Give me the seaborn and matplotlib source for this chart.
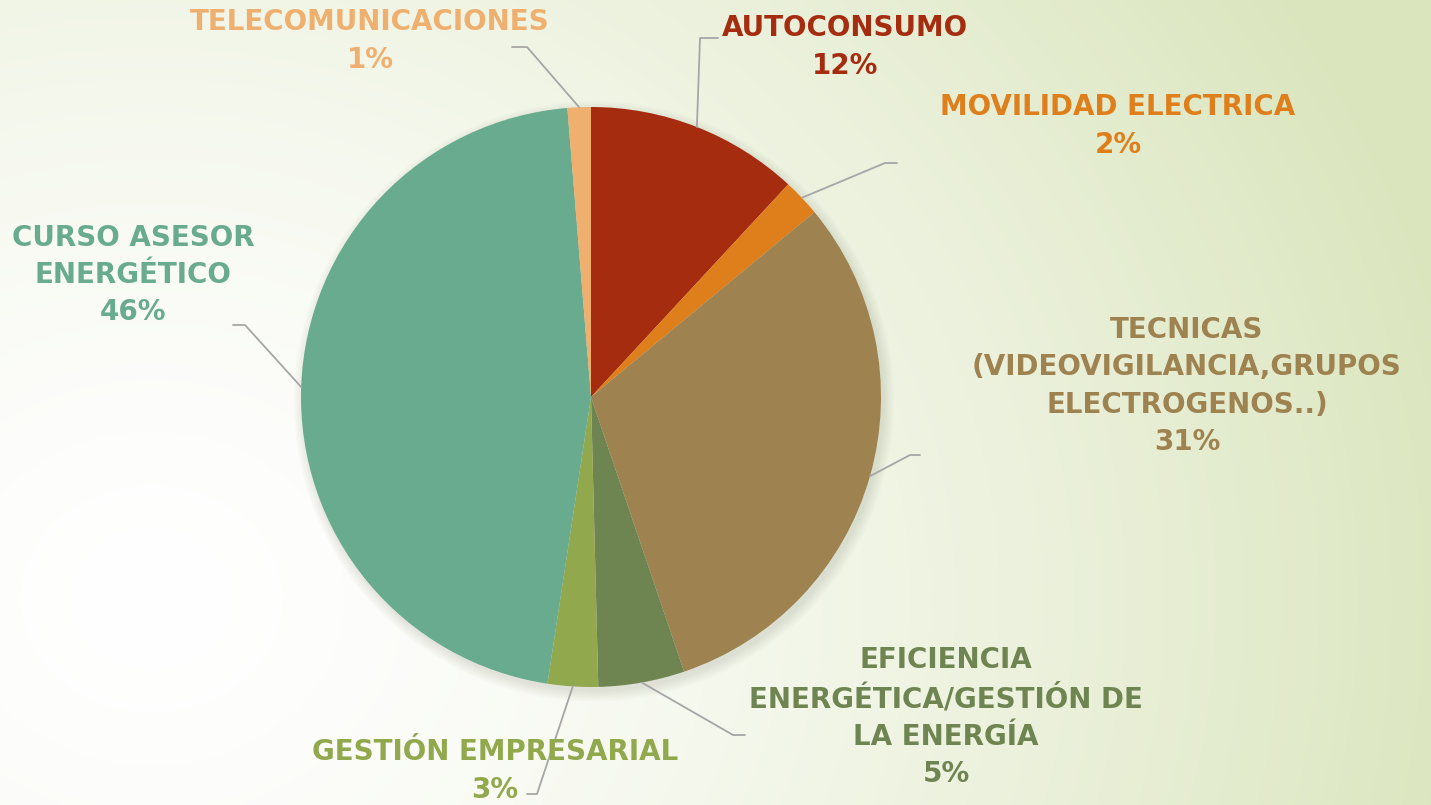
import numpy as np
import pandas as pd
import seaborn as sns
import matplotlib.pyplot as plt
from matplotlib.colors import to_rgb

categories = ['AUTOCONSUMO', 'MOVILIDAD ELECTRICA',
              'TECNICAS\n(VIDEOVIGILANCIA,GRUPOS\nELECTROGENOS..)',
              'EFICIENCIA\nENERGÉTICA/GESTIÓN DE\nLA ENERGÍA',
              'GESTIÓN EMPRESARIAL', 'CURSO ASESOR\nENERGÉTICO',
              'TELECOMUNICACIONES']
shares = [11.9, 2.1, 30.8, 4.8, 2.8, 46.3, 1.3]
pct_labels = ['12%', '2%', '31%', '5%', '3%', '46%', '1%']
colors = ['#A52C0F', '#DF7F1C', '#9E8250', '#6F8551', '#91A84C', '#68AB8F', '#EFAF6F']

df = pd.DataFrame({'cat': categories, 'share': shares, 'pct': pct_labels, 'color': colors})

sns.set_theme(style='white')
plt.rcParams['font.family'] = ['DejaVu Sans']

W, H = 1431, 805
CX, CY, R = 591, 397, 290


def px(x, y):
    # pixel position -> data coords (pie radius = 1)
    return (x - CX) / R, (CY - y) / R


fig = plt.figure(figsize=(W / 100, H / 100), dpi=100)
ax = fig.add_axes([0, 0, 1, 1])
x0, y1 = px(0, 0)
x1, y0 = px(W, H)

# background gradient
gx, gy = np.meshgrid(np.linspace(0, W, 300), np.linspace(0, H, 170))
d = np.hypot(gx - 150, (gy - 600) * 1.15)
t = np.clip(d / 1350, 0, 1) ** 1.5
white = np.array([1.0, 1.0, 1.0])
green = np.array(to_rgb('#DAE5BD'))
img = white[None, None, :] * (1 - t[..., None]) + green[None, None, :] * t[..., None]
ax.imshow(img, extent=[x0, x1, y0, y1], origin='upper', zorder=0, aspect='auto',
          interpolation='bilinear')

# soft shadow
for k in range(8):
    c = plt.Circle((0.01, -0.015), 1.0 + 0.005 * k, color='#606050', alpha=0.018, lw=0, zorder=1)
    ax.add_patch(c)

wedges, _ = ax.pie(df['share'], colors=df['color'], startangle=90, counterclock=False,
                   radius=1, wedgeprops=dict(linewidth=0))
for w in wedges:
    w.set_zorder(2)

# label centres (pixels) and leader elbows
label_pos = [(845, 47), (1118, 126), (1187, 386), (946, 717), (495, 771), (133, 275), (370, 41)]
elbows = [[(718, 38), (700, 38)], [(897, 163), (885, 163)], [(920, 455), (910, 455)],
          [(745, 735), (733, 735)], [(527, 794), (537, 794)], [(233, 325), (245, 325)],
          [(512, 47), (527, 47)]]

cum = np.cumsum([0] + list(df['share']))
for i, row in df.iterrows():
    mid = (cum[i] + cum[i + 1]) / 2 / 100 * 2 * np.pi
    ex, ey = np.sin(mid), np.cos(mid)
    pts = [px(*p) for p in elbows[i]] + [(ex, ey)]
    ax.plot([p[0] for p in pts], [p[1] for p in pts], color='#A6A6A6', lw=1.3, zorder=3)
    lx, ly = px(*label_pos[i])
    ax.text(lx, ly, row['cat'] + '\n' + row['pct'], color=row['color'], ha='center', va='center',
            fontsize=20, fontweight='bold', linespacing=1.42, zorder=4)

ax.set_xlim(x0, x1)
ax.set_ylim(y0, y1)
ax.set_aspect('equal')
ax.axis('off')
fig.savefig('out.png', dpi=100)
